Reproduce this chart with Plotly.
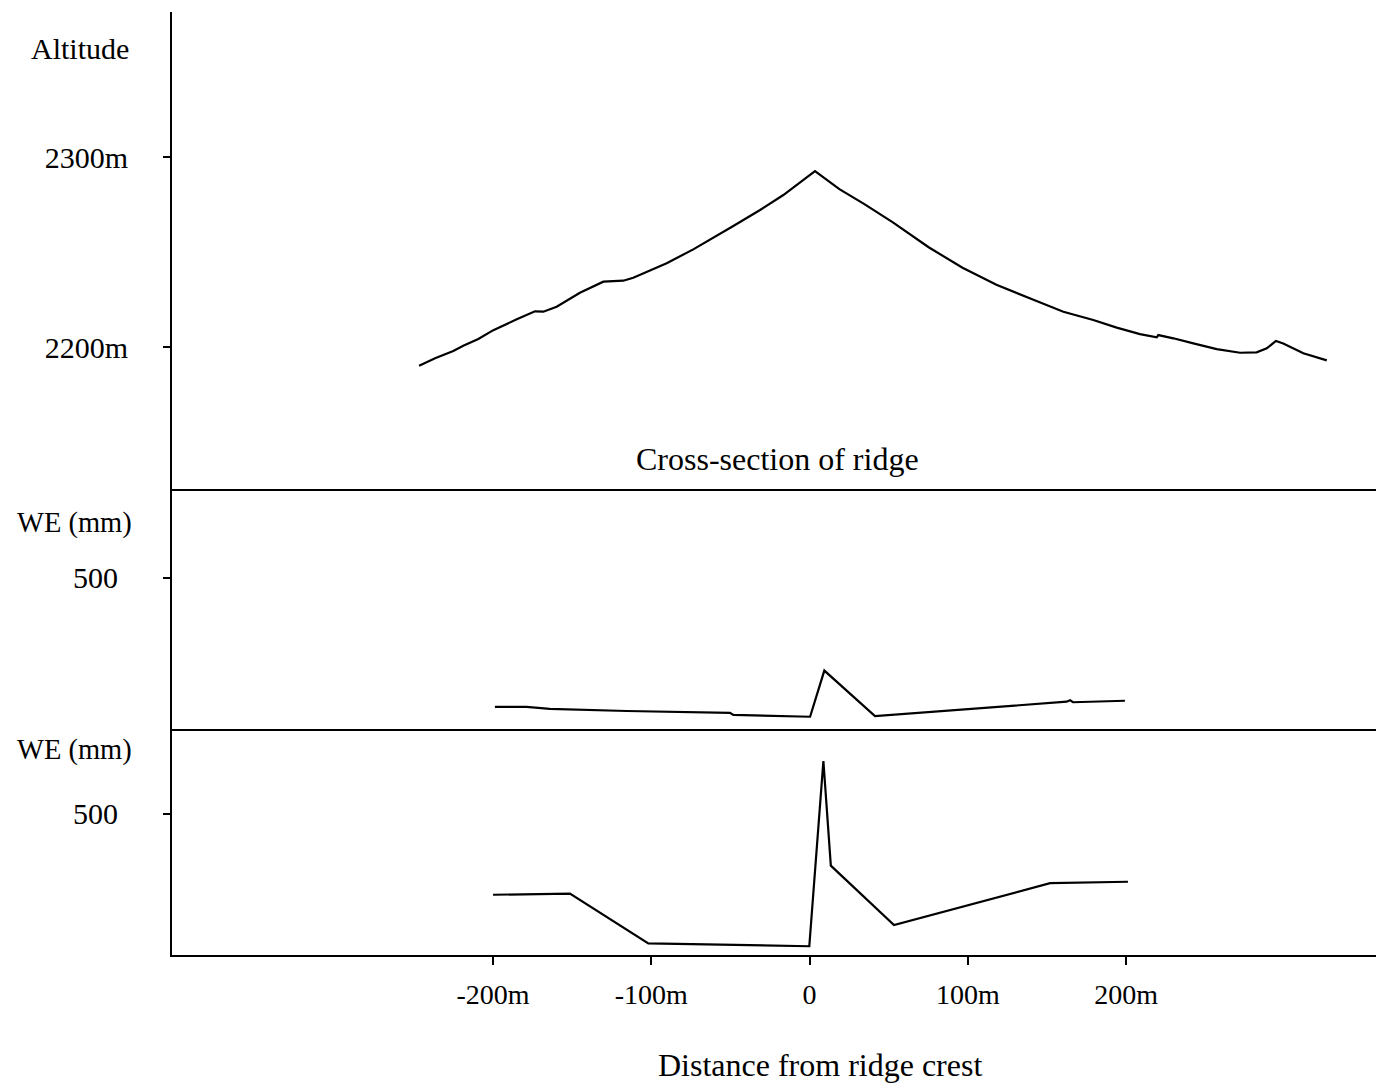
import plotly.graph_objects as go

# ---------------- data ----------------
# Cross-section of ridge (distance from crest in m, altitude in m)
ridge_dist = [-246.7, -236.6, -225.1, -218.8, -209.3, -199.8, -185.0, -173.5, -168.2, -159.8,
              -145.1, -130.3, -117.7, -111.4, -90.3, -73.5, -48.2, -31.3, -16.6, 3.4,
              18.8, 34.6, 52.6, 61.6, 75.2, 96.6, 118.0, 140.6, 160.3, 179.2,
              194.0, 208.7, 219.3, 220.3, 229.8, 242.4, 257.2, 271.9, 282.4, 288.8,
              294.6, 299.2, 311.9, 326.7]
ridge_alt = [2190.2, 2194.1, 2197.9, 2200.7, 2204.2, 2208.9, 2214.6, 2218.8, 2218.6, 2221.2,
             2228.6, 2234.4, 2234.9, 2236.5, 2244.1, 2251.4, 2263.7, 2272.1, 2280.0, 2292.6,
             2283.1, 2275.2, 2265.6, 2260.4, 2252.5, 2241.7, 2232.8, 2225.1, 2218.6, 2214.2,
             2210.2, 2206.8, 2205.1, 2206.3, 2204.6, 2201.9, 2198.9, 2197.0, 2197.2, 2199.3,
             2203.2, 2201.9, 2196.7, 2193.0]

# Snow water equivalent, first profile
we1_dist = [-198.8, -178.8, -164.2, -115.5, -50.3, -48.2, 0.3, 9.3, 41.3, 63.4, 162.4, 164.5, 166.4, 199.2]
we1_val = [72, 72, 65, 58, 52, 45, 39, 192, 41, 50, 89, 94, 87, 92]

# Snow water equivalent, second profile
we2_dist = [-200.0, -151.4, -101.9, -0.2, 8.7, 13.4, 53.3, 151.9, 201.1]
we2_val = [213, 217, 41, 31, 686, 316, 106, 254, 259]

x_tickvals = [-200, -100, 0, 100, 200]
x_ticktext = ["-200m", "-100m", "0", "100m", "200m"]
alt_tickvals = [2200, 2300]
alt_ticktext = ["2200m", "2300m"]
we_tickvals = [500]
we_ticktext = ["500"]

# ---------------- figure ----------------
FONT = "Liberation Serif, Times New Roman, serif"
line_style = dict(color="black", width=2.2)

fig = go.Figure()
fig.add_trace(go.Scatter(x=ridge_dist, y=ridge_alt, mode="lines", line=line_style,
                         xaxis="x", yaxis="y", showlegend=False))
fig.add_trace(go.Scatter(x=we1_dist, y=we1_val, mode="lines", line=line_style,
                         xaxis="x2", yaxis="y2", showlegend=False))
fig.add_trace(go.Scatter(x=we2_dist, y=we2_val, mode="lines", line=line_style,
                         xaxis="x3", yaxis="y3", showlegend=False))

# pixel geometry
L, R, T, B = 172, 0, 12, 131
plot_h = 1086 - T - B
y_bot = 955
def py(p):
    return (y_bot - p) / plot_h

def px(p):
    return (p - L) / (1376 - L - R)

xr = [-402.8, 357.8]
common_x = dict(range=xr, showgrid=False, zeroline=False, showline=True,
                linecolor="black", linewidth=2)
common_y = dict(showgrid=False, zeroline=False, showline=True, linecolor="black",
                linewidth=2, ticks="outside", ticklen=7, tickwidth=2, tickcolor="black")

fig.update_layout(
    width=1376, height=1086,
    margin=dict(l=L, r=R, t=T, b=B),
    paper_bgcolor="white", plot_bgcolor="white",
    font=dict(family=FONT, size=28, color="black"),
    xaxis=dict(**common_x, domain=[0, 1], anchor="y", showticklabels=False, ticks=""),
    xaxis2=dict(**common_x, domain=[0, 1], anchor="y2", showticklabels=False, ticks="",
                matches="x"),
    xaxis3=dict(**common_x, domain=[0, 1], anchor="y3", matches="x",
                tickvals=x_tickvals, ticktext=x_ticktext, ticks="outside", ticklen=8,
                tickwidth=2, tickcolor="black", ticklabelstandoff=5,
                tickfont=dict(family=FONT, size=28, color="black")),
    yaxis=dict(**common_y, domain=[py(489), 1], anchor="x",
               range=[2125.3, 2376.3], tickvals=alt_tickvals, ticktext=alt_ticktext,
               ticklabelstandoff=29, tickfont=dict(family=FONT, size=30, color="black")),
    yaxis2=dict(**common_y, domain=[py(728.5), py(489)], anchor="x2",
                range=[0, 794], tickvals=we_tickvals, ticktext=we_ticktext,
                ticklabelstandoff=39, tickfont=dict(family=FONT, size=30, color="black")),
    yaxis3=dict(**common_y, domain=[0, py(728.5)], anchor="x3",
                range=[0, 801], tickvals=we_tickvals, ticktext=we_ticktext,
                ticklabelstandoff=39, tickfont=dict(family=FONT, size=30, color="black")),
)

def ann(text, x, y, size):
    fig.add_annotation(text=text, x=px(x), y=py(y), xref="paper", yref="paper",
                       xanchor="center", yanchor="middle", showarrow=False,
                       font=dict(family=FONT, size=size, color="black"))

ann("Altitude", 80, 48, 30)
ann("WE (mm)", 74, 523, 28.5)
ann("WE (mm)", 74, 750, 28.5)
ann("Cross-section of ridge", 777, 459, 32)
ann("Distance from ridge crest", 820, 1065, 32)

fig.write_html("out.html", config={"displayModeBar": False},
               post_script="document.body.style.margin='0px';")
